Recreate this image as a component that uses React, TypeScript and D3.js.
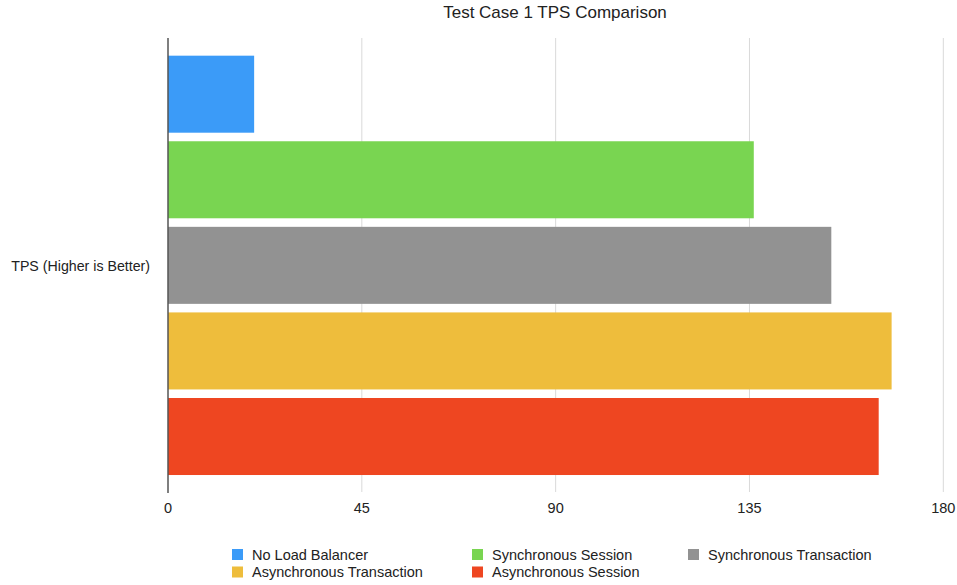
import React, { useEffect, useRef } from "react";
import * as d3 from "d3";

// Chart data
const series: string[] = [
  "No Load Balancer",
  "Synchronous Session",
  "Synchronous Transaction",
  "Asynchronous Transaction",
  "Asynchronous Session",
];
const tpsValues: number[] = [20, 136, 154, 168, 165];
const seriesColors: string[] = ["#3B9BF8", "#79D551", "#929292", "#EEBD3C", "#EE4621"];
const xTicks: number[] = [0, 45, 90, 135, 180];
const categoryLabel = "TPS (Higher is Better)";
const chartTitle = "Test Case 1 TPS Comparison";

// Legend layout order (two rows, three columns)
const legendOrder: number[] = [0, 1, 2, 3, 4];

const W = 957;
const H = 585;
const FONT = "'Liberation Sans', Arial, Helvetica, sans-serif";

export default function App() {
  const ref = useRef<SVGSVGElement | null>(null);

  useEffect(() => {
    const svg = d3.select(ref.current);
    svg.selectAll("*").remove();

    const x = d3.scaleLinear().domain([0, 180]).range([168, 943.3]);
    const y = d3
      .scaleBand<string>()
      .domain(series)
      .range([51.4, 479.3])
      .paddingInner(0.1)
      .paddingOuter(0.05);

    const plotTop = 38;
    const plotBottom = 492;

    // Title
    svg
      .append("text")
      .attr("x", 555)
      .attr("y", 18)
      .attr("text-anchor", "middle")
      .attr("font-family", FONT)
      .attr("font-size", 17)
      .attr("fill", "#222")
      .text(chartTitle);

    // Vertical gridlines
    svg
      .append("g")
      .selectAll("line")
      .data(xTicks.filter((t) => t !== 0))
      .join("line")
      .attr("x1", (d) => x(d))
      .attr("x2", (d) => x(d))
      .attr("y1", plotTop)
      .attr("y2", plotBottom)
      .attr("stroke", "#d9d9d9")
      .attr("stroke-width", 1);

    // Bars
    svg
      .append("g")
      .selectAll("rect")
      .data(series)
      .join("rect")
      .attr("x", x(0))
      .attr("y", (d) => y(d) as number)
      .attr("width", (d, i) => x(tpsValues[i]) - x(0))
      .attr("height", y.bandwidth())
      .attr("fill", (d, i) => seriesColors[i]);

    // Value axis baseline
    svg
      .append("line")
      .attr("x1", x(0))
      .attr("x2", x(0))
      .attr("y1", plotTop)
      .attr("y2", plotBottom + 1)
      .attr("stroke", "#555")
      .attr("stroke-width", 1.5);

    // Tick labels
    svg
      .append("g")
      .selectAll("text")
      .data(xTicks)
      .join("text")
      .attr("x", (d) => x(d))
      .attr("y", 512.5)
      .attr("text-anchor", "middle")
      .attr("font-family", FONT)
      .attr("font-size", 14.5)
      .attr("fill", "#222")
      .text((d) => String(d));

    // Category label
    svg
      .append("text")
      .attr("x", 150)
      .attr("y", 271)
      .attr("text-anchor", "end")
      .attr("font-family", FONT)
      .attr("font-size", 14.2)
      .attr("fill", "#222")
      .text(categoryLabel);

    // Legend
    const colX = [232, 472, 688];
    const rowY = [549, 566.5];
    const legend = svg.append("g");
    legendOrder.forEach((si, k) => {
      const col = k % 3;
      const row = Math.floor(k / 3);
      const g = legend.append("g").attr("transform", `translate(${colX[col]},${rowY[row]})`);
      g.append("rect")
        .attr("width", 11)
        .attr("height", 11)
        .attr("fill", seriesColors[si]);
      g.append("text")
        .attr("x", 20)
        .attr("y", 10.5)
        .attr("font-family", FONT)
        .attr("font-size", 14.5)
        .attr("fill", "#222")
        .text(series[si]);
    });
  }, []);

  return (
    <svg
      ref={ref}
      width={W}
      height={H}
      style={{ position: "absolute", left: 0, top: 0, background: "#fff" }}
    />
  );
}
